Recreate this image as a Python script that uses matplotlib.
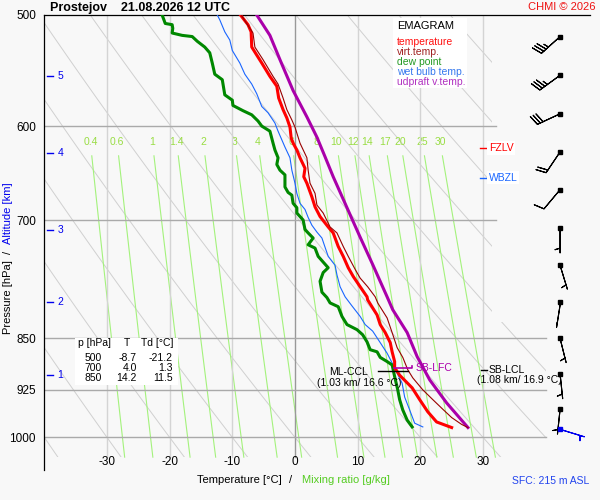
import numpy as np
import matplotlib
matplotlib.use('agg')
import matplotlib.pyplot as plt
from matplotlib.patches import Polygon, Rectangle

plt.rcParams['font.family'] = ['Liberation Sans', 'DejaVu Sans']

# --- sounding ---
T_P = [500, 508, 514, 527, 534, 541, 553, 562, 573, 584, 592, 601, 612, 617, 624, 632, 643, 652, 659, 674,
       685, 696, 708, 715, 731, 743, 757, 768, 781, 794, 798, 818, 831, 842, 856, 869, 883, 892, 903, 922,
       940, 959, 975, 984]
T_C = [-8.7, -7.5, -7.0, -6.9, -6.1, -5.3, -4.0, -2.9, -2.6, -1.9, -1.3, -0.8, -0.6, -0.3, 0.3, 0.8, 1.6, 1.4, 1.9, 2.7,
       3.2, 4.0, 5.3, 6.1, 6.9, 7.7, 8.5, 9.3, 10.4, 11.5, 11.6, 13.1, 13.6, 14.4, 15.2, 15.5, 15.9, 15.9, 16.7, 18.7,
       19.9, 21.2, 22.6, 25.0]

TV_P = [500, 515, 527, 538, 553, 560, 573, 584, 594, 601, 617, 632, 645, 659, 670, 683, 692, 708, 715, 731,
        743, 759, 770, 781, 794, 802, 822, 842, 863, 877, 895, 907, 925, 940, 955, 968, 979, 984]
TV_C = [-8.6, -6.7, -6.4, -5.1, -3.5, -2.7, -1.9, -1.3, -0.5, 0.0, 0.8, 1.9, 2.1, 2.4, 3.2, 3.5, 4.5, 5.6, 6.7, 7.7,
        8.5, 9.6, 10.4, 11.6, 12.8, 13.2, 14.7, 15.5, 16.3, 17.2, 18.0, 18.8, 20.4, 22.0, 23.6, 25.0, 26.6, 27.6]

TD_P = [500, 507, 508, 511, 515, 517, 518, 522, 527, 532, 541, 551, 556, 570, 575, 580, 585, 589, 595, 600,
        605, 617, 624, 632, 639, 645, 650, 663, 669, 672, 681, 686, 692, 700, 711, 715, 721, 729, 733, 743,
        750, 757, 763, 774, 788, 795, 802, 807, 820, 831, 838, 845, 855, 866, 869, 877, 883, 888, 892, 905,
        925, 940, 956, 972, 983]
TD_C = [-21.2, -20.7, -19.6, -19.5, -19.6, -18.0, -16.4, -15.6, -14.4, -13.6, -13.2, -12.8, -11.6, -11.2, -10.0, -9.9, -8.3, -6.9, -5.9, -5.3,
        -4.0, -3.5, -3.2, -2.7, -2.9, -2.4, -1.6, -1.6, -1.1, -0.5, -0.3, 0.3, 0.3, 1.3, 1.6, 2.1, 2.9, 2.1, 3.2, 3.7,
        4.5, 5.3, 4.5, 4.0, 4.3, 5.1, 5.6, 6.9, 7.5, 8.3, 9.9, 10.8, 11.5, 12.0, 13.1, 13.6, 14.7, 15.5, 15.6, 15.9,
        16.4, 16.7, 17.2, 17.9, 18.7]

TW_P = [500, 504, 514, 521, 530, 541, 551, 560, 569, 581, 587, 597, 605, 621, 632, 645, 659, 670, 681, 688,
        697, 706, 714, 721, 732, 743, 754, 766, 781, 794, 806, 820, 831, 840, 856, 871, 885, 900, 915, 936,
        956, 977, 983]
TW_C = [-12.4, -12.0, -11.2, -10.4, -10.0, -8.8, -8.0, -6.9, -6.1, -5.3, -4.3, -3.2, -2.7, -1.6, -0.8, -0.5, 0.0, 0.3, 0.8, 1.6,
        2.1, 2.7, 3.5, 4.3, 4.8, 5.3, 6.4, 6.7, 7.2, 8.0, 9.1, 10.4, 11.2, 12.4, 13.6, 14.7, 15.5, 16.3, 17.1, 17.5,
        18.3, 19.1, 20.4]

UP_P = [500, 517, 538, 566, 591, 611, 631, 652, 686, 720, 753, 794, 811, 842, 876, 910, 945, 984]
UP_C = [-6.1, -4.0, -2.4, -0.3, 1.9, 3.5, 4.8, 6.1, 8.3, 10.4, 12.4, 14.7, 15.6, 17.9, 19.5, 21.5, 24.2, 27.6]

# winds (kt, direction from)
WIND_P = [518, 552, 588, 626, 666, 709, 754, 801, 850, 901, 955]
WIND_DIR = [228, 234, 245, 214, 220, 180, 163, 189, 166, 174, 186]
WIND_KT = [35, 35, 30, 20, 10, 5, 5, 2, 5, 5, 5]
SFC_WIND_P, SFC_WIND_DIR, SFC_WIND_KT = 986, 107, 5

TABLE_P = [500, 700, 850]
TABLE_T = [-8.7, 4.0, 14.2]
TABLE_TD = [-21.2, 1.3, 11.5]

ALT_KM = [5, 4, 3, 2, 1]
ALT_P = [552.6, 627.1, 711.6, 800.8, 903.0]

FZLV_P, WBZL_P = 622, 653
MLCCL_P, MLCCL_TXT = 897, '(1.03 km/ 16.6 °C)'
SBLFC_P = 892
SBLCL_P, SBLCL_TXT = 895, '(1.08 km/ 16.9 °C)'

ISOBARS = [600, 700, 850, 925, 1000]
ISOTHERMS = [-30, -20, -10, 0, 10, 20, 30]
THETA_C = list(range(-40, 110, 10))
MIX_RATIOS = [0.4, 0.6, 1, 1.4, 2, 3, 4, 6, 8, 10, 12, 14, 17, 20, 25, 30]
MIX_LABELS = ['0.4', '0.6', '1', '1.4', '2', '3', '4', '6', '8', '10', '12', '14', '17', '20', '25', '30']

P_TOP, P_GRID_BOT, P_AX_BOT = 500, 1033, 1055

BG = '#f8f8f8'
RED, DRED, GREEN, BLUE, MAG = '#ff0000', '#990000', '#008800', '#1a66ff', '#aa00aa'


def fx(px):
    return px / 600.0


def fy(py):
    return 1 - py / 500.0


fig = plt.figure(figsize=(6, 5), dpi=100, facecolor=BG)
ax = fig.add_axes([fx(44.3), fy(470), 87 * 6.267 / 600, 455 / 500])
ax.set_facecolor(BG)
ax.set_yscale('log')
ax.set_xlim(-40, 47)
ax.set_ylim(P_AX_BOT, P_TOP)
for s in ['right', 'bottom']:
    ax.spines[s].set_visible(False)
for s in ['top', 'left']:
    ax.spines[s].set_linewidth(0.9)
ax.set_xticks([])
ax.set_yticks([500, 600, 700, 850, 925, 1000])
ax.set_yticklabels(['500', '600', '700', '850', '925', '1000'], fontsize=8.5)
ax.yaxis.set_minor_locator(matplotlib.ticker.NullLocator())
ax.tick_params(axis='y', length=0, pad=6)

# clip region for background lines
clip = Polygon([(-40, 500), (31.4, 500), (31.4, 828), (40, 828), (40, P_GRID_BOT), (-40, P_GRID_BOT)],
               closed=True, transform=ax.transData, fc='none', ec='none')
ax.add_patch(clip)

# dry adiabats
pp = np.geomspace(P_TOP, P_GRID_BOT, 80)
for th in THETA_C:
    tt = (th + 273.15) * (pp / 1000.0) ** 0.2857 - 273.15
    ln, = ax.plot(tt, pp, color='#d0d0d0', lw=0.7, zorder=1)
    ln.set_clip_path(clip)

# mixing ratio lines
pm = np.geomspace(630, P_GRID_BOT, 40)


def dewpt(w, p):
    e = w * p / (622.0 + w)
    a = np.log(e / 6.112)
    return 243.5 * a / (17.67 - a)


for w, lab in zip(MIX_RATIOS, MIX_LABELS):
    ax.plot(dewpt(w, pm), pm, color='#a4f27c', lw=0.8, zorder=1)
    ax.text(dewpt(w, 616.0), 616, lab, color='#99dd44', fontsize=7.5, ha='center', va='center', zorder=1)

# isotherms / isobars
for t in ISOTHERMS:
    ax.plot([t, t], [P_TOP, P_GRID_BOT], color='#999999' if t == 0 else '#d4d4d4', lw=1, zorder=1.5)
for p in ISOBARS:
    ax.plot([-40, 32 if p < 800 else 40], [p, p], color='#aaaaaa', lw=1, zorder=1.5)
for t in ISOTHERMS:
    ax.text(t, 1041, '%d' % t, fontsize=8.5, ha='center', va='center')

# altitude labels
for km, p in zip(ALT_KM, ALT_P):
    ax.plot([-39.5, -38.6], [p, p], color='#0000ee', lw=1)
    ax.text(-37.9, p, str(km), color='#0000ee', fontsize=7.5, va='center')

# profiles
ax.plot(TW_C, TW_P, color=BLUE, lw=0.8, zorder=5)
ax.plot(TD_C, TD_P, color=GREEN, lw=2.2, zorder=6)
ax.plot(T_C, T_P, color=RED, lw=2.2, zorder=6)
ax.plot(TV_C, TV_P, color=DRED, lw=0.8, zorder=7)
ax.plot(UP_C, UP_P, color=MAG, lw=2.2, zorder=6)

# level annotations
ax.plot([29.6, 30.6], [FZLV_P, FZLV_P], color=RED, lw=1, zorder=8)
ax.text(30.9, FZLV_P, 'FZLV', color=RED, fontsize=7.5, va='center', zorder=8,
        bbox=dict(fc='white', ec='none', pad=1.2))
ax.plot([29.6, 30.6], [WBZL_P, WBZL_P], color=BLUE, lw=1, zorder=8)
ax.text(30.9, WBZL_P, 'WBZL', color=BLUE, fontsize=7.5, va='center', zorder=8,
        bbox=dict(fc='white', ec='none', pad=1.2))

ax.plot([13.2, 18.0], [MLCCL_P, MLCCL_P], color='black', lw=1, zorder=8)
ax.text(11.7, MLCCL_P + 2, 'ML-CCL', fontsize=7.5, ha='right', va='center', zorder=8)
ax.text(10.2, 914, MLCCL_TXT, fontsize=7.5, ha='center', va='center', zorder=8)

ax.plot([15.8, 18.7, 18.7], [SBLFC_P, SBLFC_P, SBLFC_P - 3], color=MAG, lw=1.2, zorder=8)
ax.text(19.2, SBLFC_P, 'SB-LFC', color=MAG, fontsize=7.5, va='center', zorder=8)

ax.plot([29.7, 30.6], [SBLCL_P, SBLCL_P], color='black', lw=1, zorder=8)
ax.text(30.9, SBLCL_P, 'SB-LCL', fontsize=7.5, va='center', zorder=8)
ax.text(35.8, 910, SBLCL_TXT, fontsize=7.5, ha='center', va='center', zorder=8)

# wind barbs
XB = 42.3
wd = np.radians(WIND_DIR)
spd = np.array(WIND_KT, float)
u = -spd * np.sin(wd)
v = -spd * np.cos(wd)
strong = spd >= 5
wp = np.array(WIND_P, float)
ax.barbs(np.full(strong.sum(), XB), wp[strong], u[strong], v[strong], length=6, lw=0.8,
         color='black', zorder=9)
# weak wind: staff only
weak = ~strong
ax.barbs(np.full(weak.sum(), XB), wp[weak], 5 * u[weak] / spd[weak], 5 * v[weak] / spd[weak], length=6,
         lw=0.8, color='black', sizes=dict(height=0.0), zorder=9)
ax.plot(np.full(len(wp), XB), wp, 's', ms=2.6, color='black', zorder=10)
sd = np.radians(SFC_WIND_DIR)
ax.barbs([XB], [SFC_WIND_P], [-SFC_WIND_KT * np.sin(sd)], [-SFC_WIND_KT * np.cos(sd)], length=6, lw=0.8,
         color='#0000ee', zorder=9)
ax.plot([XB], [SFC_WIND_P], 's', ms=2.6, color='#0000ee', zorder=10)

# legend box
ax.add_patch(Rectangle((fx(393), fy(88)), fx(74), 70 / 500, transform=fig.transFigure,
                       fc='white', ec='none', zorder=8))
fig.text(fx(397), fy(26), 'EMAGRAM', fontsize=8, va='center')
leg = [('temperature', '#ff1010'), ('virt.temp.', '#a02020'), ('dew point', '#229922'),
       ('wet bulb temp.', '#3377ee'), ('udpraft v.temp.', '#b030c0')]
for i, (lab, c) in enumerate(leg):
    fig.text(fx(397), fy(42 + 10 * i), lab, color=c, fontsize=7.5, va='center')

# table
ax.add_patch(Rectangle((fx(75), fy(385)), fx(103), 47 / 500, transform=fig.transFigure,
                       fc='white', ec='none', zorder=8))
fig.text(fx(78), fy(343), 'p [hPa]', fontsize=7.5, va='center')
fig.text(fx(127), fy(343), 'T', fontsize=7.5, va='center', ha='center')
fig.text(fx(141), fy(343), 'Td [°C]', fontsize=7.5, va='center')
for i, (p, t, td) in enumerate(zip(TABLE_P, TABLE_T, TABLE_TD)):
    yy = fy(358 + 10 * i)
    fig.text(fx(102), yy, '%d' % p, fontsize=7.5, va='center', ha='right')
    fig.text(fx(137), yy, '%.1f' % t, fontsize=7.5, va='center', ha='right')
    fig.text(fx(173), yy, '%.1f' % td, fontsize=7.5, va='center', ha='right')

# titles and axis labels
fig.text(fx(50), fy(7.5), 'Prostejov    21.08.2026 12 UTC', fontsize=9, weight='bold', va='center')
fig.text(fx(596), fy(7), 'CHMI © 2026', fontsize=8, color='#ee1111', va='center', ha='right')
fig.text(fx(8), fy(297), 'Pressure [hPa]', rotation=90, fontsize=8, ha='center', va='center')
fig.text(fx(8), fy(252), '/', rotation=90, fontsize=8, ha='center', va='center')
fig.text(fx(8), fy(213), 'Altitude [km]', rotation=90, fontsize=8, ha='center', va='center', color='#0000ee')
fig.text(fx(197), fy(480), 'Temperature [°C]', fontsize=8, va='center')
fig.text(fx(289), fy(480), '/', fontsize=8, va='center')
fig.text(fx(302), fy(480), 'Mixing ratio [g/kg]', fontsize=8, va='center', color='#55cc22')
fig.text(fx(512), fy(481), 'SFC: 215 m ASL', fontsize=7.5, va='center', color='#2244ee')

fig.savefig('out.png', dpi=100, facecolor=BG)
